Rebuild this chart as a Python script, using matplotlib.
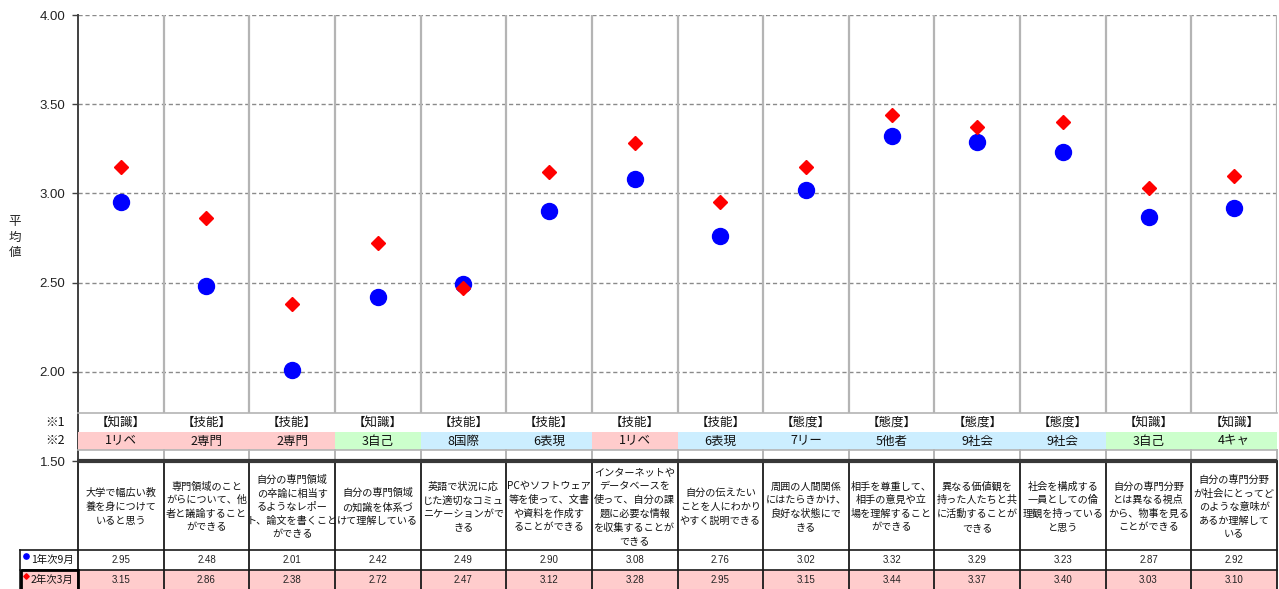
import matplotlib
matplotlib.use("Agg")
import matplotlib.pyplot as plt
from matplotlib.patches import Rectangle

plt.rcParams['font.family'] = ['Noto Sans CJK JP', 'DejaVu Sans']

# ---- data -------------------------------------------------------------
domains = ["【知識】", "【技能】", "【技能】", "【知識】", "【技能】", "【技能】", "【技能】",
           "【技能】", "【態度】", "【態度】", "【態度】", "【態度】", "【知識】", "【知識】"]
groups = ["1リベ", "2専門", "2専門", "3自己", "8国際", "6表現", "1リベ",
          "6表現", "7リー", "5他者", "9社会", "9社会", "3自己", "4キャ"]
items = [
    "大学で幅広い教\n養を身につけて\nいると思う",
    "専門領域のこと\nがらについて、他\n者と議論すること\nができる",
    "自分の専門領域\nの卒論に相当す\nるようなレポー\nト、論文を書くこと\nができる",
    "自分の専門領域\nの知識を体系づ\nけて理解している",
    "英語で状況に応\nじた適切なコミュ\nニケーションがで\nきる",
    "PCやソフトウェア\n等を使って、文書\nや資料を作成す\nることができる",
    "インターネットや\nデータベースを\n使って、自分の課\n題に必要な情報\nを収集することが\nできる",
    "自分の伝えたい\nことを人にわかり\nやすく説明できる",
    "周囲の人間関係\nにはたらきかけ、\n良好な状態にで\nきる",
    "相手を尊重して、\n相手の意見や立\n場を理解すること\nができる",
    "異なる価値観を\n持った人たちと共\nに活動することが\nできる",
    "社会を構成する\n一員としての倫\n理観を持っている\nと思う",
    "自分の専門分野\nとは異なる視点\nから、物事を見る\nことができる",
    "自分の専門分野\nが社会にとってど\nのような意味が\nあるか理解して\nいる",
]
series_names = ["1年次9月", "2年次3月"]
year1_sep = [2.95, 2.48, 2.01, 2.42, 2.49, 2.90, 3.08, 2.76, 3.02, 3.32, 3.29, 3.23, 2.87, 2.92]
year2_mar = [3.15, 2.86, 2.38, 2.72, 2.47, 3.12, 3.28, 2.95, 3.15, 3.44, 3.37, 3.40, 3.03, 3.10]
yticks = [1.5, 2.0, 2.5, 3.0, 3.5, 4.0]

# ---- styling ----------------------------------------------------------
group_fill = {"1": "#ffcccc", "2": "#ffcccc", "3": "#ccffcc", "4": "#ccffcc",
              "5": "#cceeff", "6": "#cceeff", "7": "#cceeff", "8": "#cceeff", "9": "#cceeff"}
BLUE, RED = "#0000ff", "#ff0000"
NUMFONT = ['Liberation Sans', 'DejaVu Sans']

W, H = 1279, 589
fig = plt.figure(figsize=(W / 100, H / 100), dpi=100)
fig.patch.set_facecolor("white")

# plot-area frame in pixels
PL, PR, PT, PB = 78, 1277, 15, 461
n = len(items)

ax = fig.add_axes([PL / W, 1 - PB / H, (PR - PL) / W, (PB - PT) / H])
ax.set_xlim(0, n)
ax.set_ylim(yticks[0], yticks[-1])
for s in ("top", "right", "bottom"):
    ax.spines[s].set_visible(False)
ax.spines["left"].set_color("#404040")
ax.spines["left"].set_linewidth(1.4)
ax.set_xticks([])
ax.set_yticks(yticks)
ax.set_yticklabels([f"{v:.2f}" for v in yticks], fontfamily=NUMFONT, fontsize=9.5, color="#222222")
ax.tick_params(axis="y", direction="out", length=4, width=1, color="#404040", pad=5)

for v in yticks[1:]:
    ax.axhline(v, color="#8a8a8a", lw=1.0, ls=(0, (3, 2)), zorder=1)
ax.vlines(range(1, n + 1), yticks[0], yticks[-1], color="#b4b4b4", lw=1.6, zorder=1)

xs = [i + 0.5 for i in range(n)]
ax.plot(xs, year1_sep, ls="none", marker="o", ms=11.5, color=BLUE, zorder=3)
ax.plot(xs, year2_mar, ls="none", marker="D", ms=7.6, color=RED, zorder=4)

fig.text(15 / W, 1 - 237 / H, "平\n均\n値", ha="center", va="center",
         fontsize=9, linespacing=1.25, color="#222222")

# ---- overlay for the category strip and the data table (pixel coords) --
ov = fig.add_axes([0, 0, 1, 1])
ov.set_xlim(0, W)
ov.set_ylim(H, 0)
ov.axis("off")
ov.patch.set_visible(False)

cw = (PR - PL) / n
edges = [PL + i * cw for i in range(n + 1)]
cent = [PL + (i + 0.5) * cw for i in range(n)]

# category strip
ov.add_patch(Rectangle((PL + 1, 413), PR - PL - 1, PB - 413, fc="white", ec="none", zorder=1))
for i in range(n):
    ov.add_patch(Rectangle((edges[i], 432), cw, 17.5, fc=group_fill[groups[i][0]], ec="none", zorder=2))
    ov.text(cent[i], 422.5, domains[i], ha="center", va="center", fontsize=9, color="#111111", zorder=3)
    ov.text(cent[i], 441, groups[i], ha="center", va="center", fontsize=9, color="#111111", zorder=3)
ov.plot([PL, PR], [413, 413], color="#b4b4b4", lw=1.2, zorder=3)
ov.plot([PL, PR], [450, 450], color="#b4b4b4", lw=1.2, zorder=3)
for x in edges[1:]:
    ov.plot([x, x], [450, 459], color="#b4b4b4", lw=1.4, zorder=3)
ov.text(65, 422.5, "※1", ha="right", va="center", fontsize=9, color="#111111")
ov.text(65, 441, "※2", ha="right", va="center", fontsize=9, color="#111111")

# data table
R1, R2, RB = 550, 569.5, 589
LX = 20
ov.add_patch(Rectangle((LX, R2), PR - LX, RB - R2 + 2, fc="#ffcccc", ec="none", zorder=1))
ov.plot([PL - 1, PR], [PB, PB], color="#383838", lw=3.0, zorder=4, solid_capstyle="butt")
for x in edges:
    ov.plot([x, x], [PB, RB + 2], color="#1a1a1a", lw=1.3, zorder=3)
ov.plot([LX, PR], [R1, R1], color="#1a1a1a", lw=1.2, zorder=3)
ov.plot([LX, PR], [R2, R2], color="#1a1a1a", lw=1.2, zorder=3)
ov.plot([LX, LX], [R1, RB + 2], color="#1a1a1a", lw=1.2, zorder=3)
ov.add_patch(Rectangle((LX + 1, R2 + 0.5), PL - LX - 1, RB - R2 + 2, fc="none", ec="#000000", lw=2.0, zorder=4))

for i in range(n):
    ov.text(cent[i], (PB + R1) / 2 + 1.5, items[i], ha="center", va="center",
            fontsize=7.3, linespacing=1.45, color="#111111", zorder=3)
    ov.text(cent[i], (R1 + R2) / 2 + 0.5, f"{year1_sep[i]:.2f}", ha="center", va="center",
            fontsize=7, fontfamily=NUMFONT, color="#222222", zorder=3)
    ov.text(cent[i], (R2 + RB) / 2 + 0.5, f"{year2_mar[i]:.2f}", ha="center", va="center",
            fontsize=7, fontfamily=NUMFONT, color="#222222", zorder=3)

ov.plot([26], [556], ls="none", marker="o", ms=3.8, color=BLUE, zorder=5)
ov.plot([26], [575.5], ls="none", marker="D", ms=2.8, color=RED, zorder=5)
ov.text(31, (R1 + R2) / 2 + 0.5, series_names[0], ha="left", va="center", fontsize=7.5, color="#111111", zorder=5)
ov.text(31, (R2 + RB) / 2 + 0.5, series_names[1], ha="left", va="center", fontsize=7.5, color="#111111", zorder=5)

fig.savefig("out.png", dpi=100)
